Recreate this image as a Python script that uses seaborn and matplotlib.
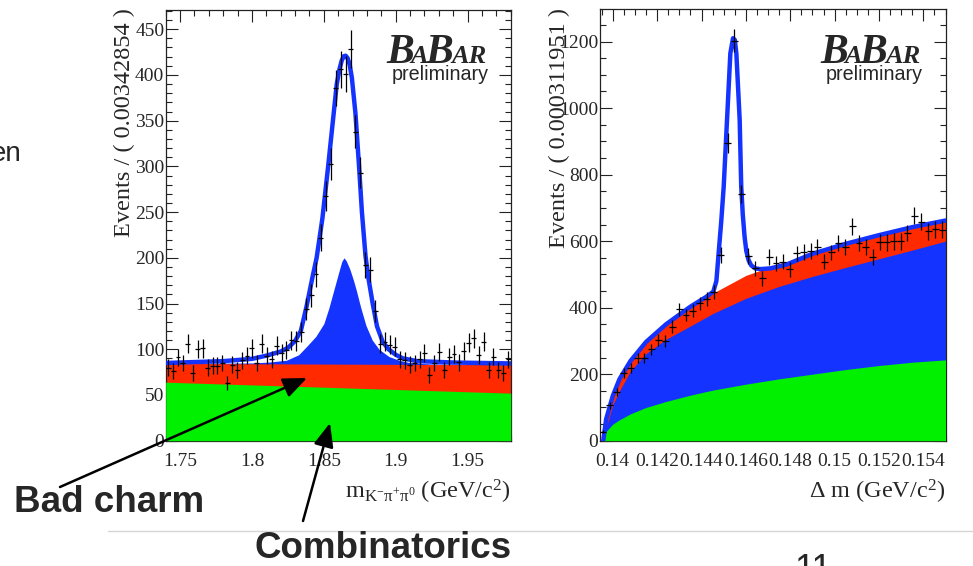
import matplotlib
matplotlib.use("Agg")
import matplotlib.pyplot as plt
import matplotlib.ticker as mticker
from matplotlib.lines import Line2D
from matplotlib.patches import FancyArrowPatch
import numpy as np
import seaborn as sns

# ---- left panel: m(K- pi+ pi0), 70 bins of 0.00342854 GeV
m_lo, m_hi, m_nbins = 1.74, 1.98, 70
m_counts = [80, 76, 91, 85, 106, 74, 100, 101, 80, 82,
            82, 85, 63, 83, 77, 88, 93, 101, 85, 106,
            93, 89, 104, 96, 99, 110, 109, 119, 144, 159,
            182, 222, 268, 303, 386, 406, 401, 428, 338, 293,
            192, 187, 142, 106, 108, 105, 103, 89, 88, 83,
            85, 89, 96, 72, 85, 97, 77, 92, 95, 86,
            98, 107, 112, 94, 108, 77, 92, 77, 74, 89]

m_fit_x = [1.74, 1.76, 1.78, 1.80, 1.81, 1.82, 1.825, 1.83, 1.834, 1.838, 1.842, 1.845,
           1.849, 1.853, 1.856, 1.859, 1.861, 1.8625, 1.864, 1.8652, 1.8665, 1.868, 1.8695,
           1.872, 1.8745, 1.8765, 1.879, 1.881, 1.884, 1.887, 1.891, 1.895, 1.90, 1.905,
           1.915, 1.94, 1.98]
m_fit_y = [85, 86, 87, 89.5, 93, 97.5, 101.5, 109, 120, 147, 178, 200,
           243, 300, 345, 390, 407, 416, 420.5, 421, 418.5, 411, 397,
           358, 300, 250, 202, 178, 150, 125, 108, 100, 94, 90,
           87, 85.5, 84.5]

m_sig_x = [1.74, 1.80, 1.812, 1.824, 1.8325, 1.838, 1.8444, 1.85, 1.8535, 1.857, 1.8605,
           1.8625, 1.864, 1.8655, 1.868, 1.8705, 1.8725, 1.8756, 1.8793, 1.8837, 1.8884,
           1.8953, 1.9023, 1.9093, 1.9233, 1.98]
m_sig_y = [84.5, 85, 86, 88, 94, 103, 114, 128, 145, 165, 185,
           196, 200, 197, 188, 176, 165, 146, 126, 110, 100,
           92, 88, 85.5, 84, 83]

m_bg_x = [1.74, 1.98]
m_bad = [84.5, 83]
m_comb = [64, 52]

# ---- right panel: delta m, 50 bins of 0.000311951 GeV
dm_lo, dm_hi, dm_nbins = 0.1394, 0.155, 50
dm_counts = [27, 107, 146, 203, 218, 248, 248, 275, 303, 300,
             343, 395, 378, 391, 413, 425, 448, 558, 894, 1203,
             742, 555, 518, 488, 552, 533, 538, 516, 563, 568,
             571, 583, 538, 566, 594, 582, 644, 594, 582, 553,
             597, 596, 599, 599, 624, 677, 659, 629, 636, 634]

dm_fit_x = [0.13957, 0.1397, 0.14, 0.1403, 0.1408, 0.1415, 0.1424, 0.1435, 0.1442,
            0.14453, 0.14467, 0.14477, 0.14489, 0.145, 0.14515, 0.1453, 0.14542,
            0.1455, 0.14557, 0.14572, 0.14579, 0.14586, 0.14594, 0.14602, 0.14612,
            0.14624, 0.14642, 0.14665, 0.1471, 0.14785, 0.149, 0.1505, 0.152, 0.1535, 0.155]
dm_fit_y = [0, 65, 135, 185, 240, 297, 350, 403, 432,
            448, 480, 563, 660, 764, 965, 1165, 1210,
            1205, 1165, 965, 764, 680, 614, 570, 543,
            527, 518, 516, 518, 530, 562, 592, 618, 642, 662]

dm_bg_x = [0.13957, 0.1397, 0.14, 0.1403, 0.1408, 0.1415, 0.1424, 0.1435,
           0.1445, 0.146, 0.1475, 0.149, 0.1505, 0.152, 0.1535, 0.155]
dm_bad = [0, 65, 135, 182, 238, 296, 350, 402, 443, 497, 532, 560, 592, 618, 642, 662]
dm_dstar = [0, 40, 108, 150, 210, 262, 305, 345, 382, 428, 464, 494, 521, 547, 573, 600]
dm_comb = [0, 28, 50, 63, 81, 100, 118, 137, 152, 170, 186, 200, 214, 226, 236, 243]

BLUE = "#1533ff"
RED = "#ff2a00"
GREEN = "#00f000"

sns.set_style("ticks")
plt.rcParams["font.family"] = ["Liberation Serif", "DejaVu Serif"]
plt.rcParams["mathtext.fontset"] = "custom"
plt.rcParams["mathtext.rm"] = "Liberation Serif"
plt.rcParams["mathtext.it"] = "Liberation Serif:italic"
plt.rcParams["mathtext.bf"] = "Liberation Serif:bold"

W, H = 973, 566
fig = plt.figure(figsize=(W / 100, H / 100), dpi=100)


def fx(x):
    return x / W


def fy(y):
    return 1 - y / H


def make_axes(x0, y0, x1, y1):
    return fig.add_axes([fx(x0), fy(y1), (x1 - x0) / W, (y1 - y0) / H])


def style_axes(ax, major_x, minor_x, major_y, minor_y):
    ax.xaxis.set_major_locator(mticker.MultipleLocator(major_x))
    ax.xaxis.set_minor_locator(mticker.MultipleLocator(minor_x))
    ax.yaxis.set_major_locator(mticker.MultipleLocator(major_y))
    ax.yaxis.set_minor_locator(mticker.MultipleLocator(minor_y))
    ax.xaxis.set_major_formatter(mticker.FuncFormatter(lambda v, p: "%g" % round(v, 6)))
    ax.yaxis.set_major_formatter(mticker.FuncFormatter(lambda v, p: "%g" % round(v, 6)))
    ax.tick_params(which="both", direction="in", top=True, right=True,
                   width=0.8, color="#222222", labelsize=14)
    ax.tick_params(which="major", length=8.6)
    ax.tick_params(which="minor", length=4.3)
    ax.tick_params(axis="x", pad=8.5)
    ax.tick_params(axis="y", pad=1)
    for s in ax.spines.values():
        s.set_linewidth(0.9)
        s.set_color("#222222")
    ax.set_xlabel("")
    ax.set_ylabel("")


def draw_data(ax, lo, hi, nbins, counts):
    width = (hi - lo) / nbins
    centers = lo + (np.arange(nbins) + 0.5) * width
    counts = np.array(counts, dtype=float)
    ax.errorbar(centers, counts, xerr=width / 2, yerr=np.sqrt(counts), fmt="none",
                ecolor="black", elinewidth=0.9, capsize=0, zorder=6)


# ---------------- left panel
ax1 = make_axes(165.7, 10, 510.7, 440.7)
ax1.fill_between(m_sig_x, 0, m_sig_y, color=BLUE, lw=0, zorder=1)
ax1.fill_between(m_bg_x, 0, m_bad, color=RED, lw=0, zorder=2)
ax1.fill_between(m_bg_x, 0, m_comb, color=GREEN, lw=0, zorder=3)
sns.lineplot(x=m_fit_x, y=m_fit_y, ax=ax1, color=BLUE, linewidth=3.2, zorder=4)
draw_data(ax1, m_lo, m_hi, m_nbins, m_counts)
ax1.set_xlim(m_lo, m_hi)
ax1.set_ylim(0, 471)
style_axes(ax1, 0.05, 0.01, 50, 10)
ax1.text(-0.12, 1.004, "Events / ( 0.00342854 )", transform=ax1.transAxes,
         rotation=90, ha="center", va="top", fontsize=17.5)
ax1.text(1.0, -0.119, r"m$_{\mathrm{K^{-}\pi^{+}\pi^{0}}}$ (GeV/c$^{2}$)",
         transform=ax1.transAxes, ha="right", va="center", fontsize=17.5)

# ---------------- right panel
ax2 = make_axes(599.5, 9.3, 945.5, 440.7)
ax2.fill_between(dm_bg_x, 0, dm_bad, color=RED, lw=0, zorder=1)
ax2.fill_between(dm_bg_x, 0, dm_dstar, color=BLUE, lw=0, zorder=2)
ax2.fill_between(dm_bg_x, 0, dm_comb, color=GREEN, lw=0, zorder=3)
sns.lineplot(x=dm_fit_x, y=dm_fit_y, ax=ax2, color=BLUE, linewidth=3.2, zorder=4)
draw_data(ax2, dm_lo, dm_hi, dm_nbins, dm_counts)
ax2.set_xlim(dm_lo, dm_hi)
ax2.set_ylim(0, 1297)
style_axes(ax2, 0.002, 0.0005, 200, 50)
ax2.text(-0.115, 1.004, "Events / ( 0.000311951 )", transform=ax2.transAxes,
         rotation=90, ha="center", va="top", fontsize=17.5)
ax2.text(1.0, -0.119, "\u0394 m (GeV/c$^{2}$)",
         transform=ax2.transAxes, ha="right", va="center", fontsize=17.5)

# ---------------- BaBar logos
logo_font = dict(family="Liberation Serif", weight="bold", style="italic", va="baseline")
for dx in (0, 434):
    fig.text(fx(386 + dx), fy(63), "B", fontsize=30, **logo_font)
    fig.text(fx(410 + dx), fy(63), "A", fontsize=19, **logo_font)
    fig.text(fx(425 + dx), fy(63), "B", fontsize=30, **logo_font)
    fig.text(fx(451 + dx), fy(63), "AR", fontsize=19, **logo_font)
    fig.text(fx(489 + dx), fy(74), "preliminary", fontsize=14.2,
             family="Liberation Sans", ha="right", va="center")

# ---------------- slide decorations
fig.text(fx(22), fy(161), "en", fontsize=20, family="Liberation Sans",
         ha="right", va="baseline")
fig.text(fx(14), fy(502), "Bad charm", fontsize=26.5, family="Liberation Sans",
         weight="bold", ha="left", va="center")
fig.text(fx(254), fy(549), "Combinatorics", fontsize=26.5, family="Liberation Sans",
         weight="bold", ha="left", va="center")
fig.text(fx(794), fy(553), "11", fontsize=26, family="Liberation Sans",
         ha="left", va="top")
fig.add_artist(Line2D([fx(108), fx(973)], [fy(531), fy(531)], transform=fig.transFigure,
                      color="#d6d6d6", lw=1))

for tail, tip in (((60, 487), (307, 378)), ((303, 521), (330, 423))):
    fig.add_artist(FancyArrowPatch((fx(tail[0]), fy(tail[1])), (fx(tip[0]), fy(tip[1])),
                                   transform=fig.transFigure,
                                   arrowstyle="-|>,head_length=1.0,head_width=0.42",
                                   mutation_scale=14.5, color="black", lw=1.8,
                                   shrinkA=0, shrinkB=0))

fig.savefig("out.png", dpi=100, facecolor="white")
